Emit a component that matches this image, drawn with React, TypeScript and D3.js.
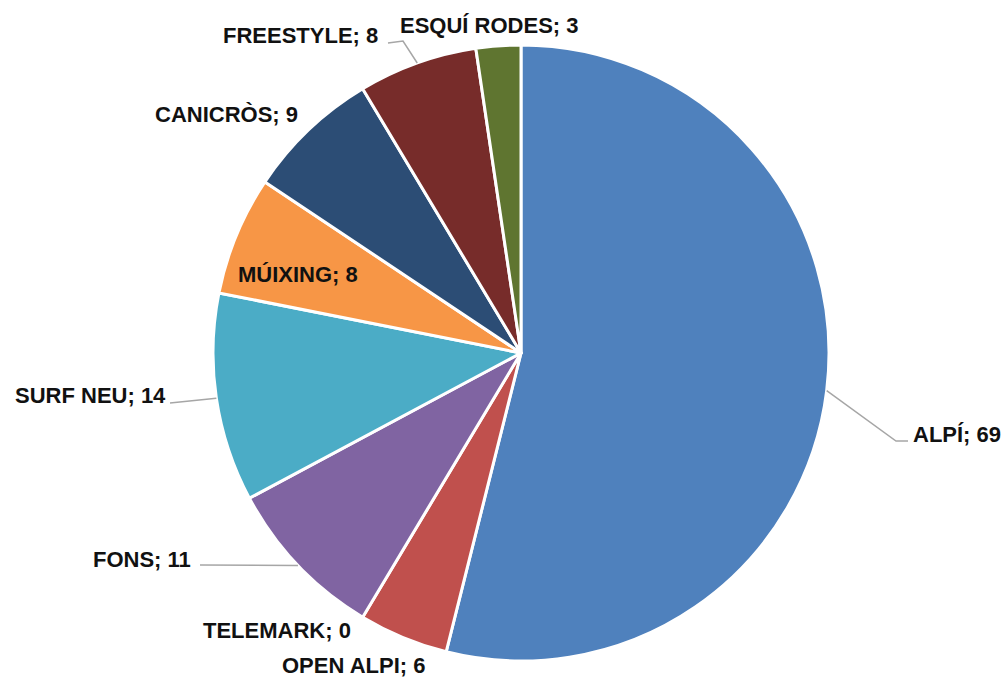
import React from "react";
import * as d3 from "d3";

const categories = ["ALPÍ", "OPEN ALPI", "TELEMARK", "FONS", "SURF NEU", "MÚIXING", "CANICRÒS", "FREESTYLE", "ESQUÍ RODES"];
const values = [69, 6, 0, 11, 14, 8, 9, 8, 3];
const colors = ["#4F81BD", "#C0504D", "#9BBB59", "#8064A2", "#4BACC6", "#F79646", "#2C4D75", "#772C2A", "#5F7530"];

// label layout: text start x, baseline y, and optional leader bend points (layout only)
const labelLayout: Record<string, { x: number; y: number; leader?: [number, number][] }> = {
  "ALPÍ": { x: 913, y: 442, leader: [[896, 441], [908, 441]] },
  "OPEN ALPI": { x: 282, y: 673 },
  "TELEMARK": { x: 203, y: 638 },
  "FONS": { x: 93, y: 567, leader: [[200, 565]] },
  "SURF NEU": { x: 15, y: 403, leader: [[170, 403]] },
  "MÚIXING": { x: 238, y: 282 },
  "CANICRÒS": { x: 155, y: 122 },
  "FREESTYLE": { x: 223, y: 43, leader: [[403, 41], [388, 43]] },
  "ESQUÍ RODES": { x: 400, y: 33 },
};

const W = 1005;
const H = 677;
const cx = 521;
const cy = 353;
const R = 308;

export default function App() {
  const data = categories.map((c, i) => ({ name: c, value: values[i], color: colors[i] }));
  const pie = d3.pie<any>().value((d) => d.value).sort(null).startAngle(0).endAngle(2 * Math.PI);
  const arcs = pie(data);
  const arcGen = d3.arc<any>().innerRadius(0).outerRadius(R);

  return (
    <svg width={W} height={H} style={{ position: "absolute", left: 0, top: 0, background: "#fff" }}
      fontFamily="'Liberation Sans', Arial, sans-serif">
      <rect width={W} height={H} fill="#fff" />
      <g transform={`translate(${cx},${cy})`}>
        {arcs.filter((a) => a.data.value > 0).map((a) => (
          <path key={a.data.name} d={arcGen(a) as string} fill={a.data.color} stroke="#fff" strokeWidth={3} strokeLinejoin="round" />
        ))}
      </g>
      {arcs.map((a) => {
        const lay = labelLayout[a.data.name];
        const mid = (a.startAngle + a.endAngle) / 2;
        const ex = cx + R * Math.sin(mid);
        const ey = cy - R * Math.cos(mid);
        let line = null;
        if (lay.leader) {
          const pts: [number, number][] = [[ex, ey], ...lay.leader];
          line = (
            <path d={d3.line()(pts) as string} fill="none" stroke="#A6A6A6" strokeWidth={1.5} />
          );
        }
        return (
          <g key={a.data.name}>
            {line}
            <text x={lay.x} y={lay.y} fontSize={22} fontWeight="bold" fill="#111">
              {`${a.data.name}; ${a.data.value}`}
            </text>
          </g>
        );
      })}
    </svg>
  );
}
